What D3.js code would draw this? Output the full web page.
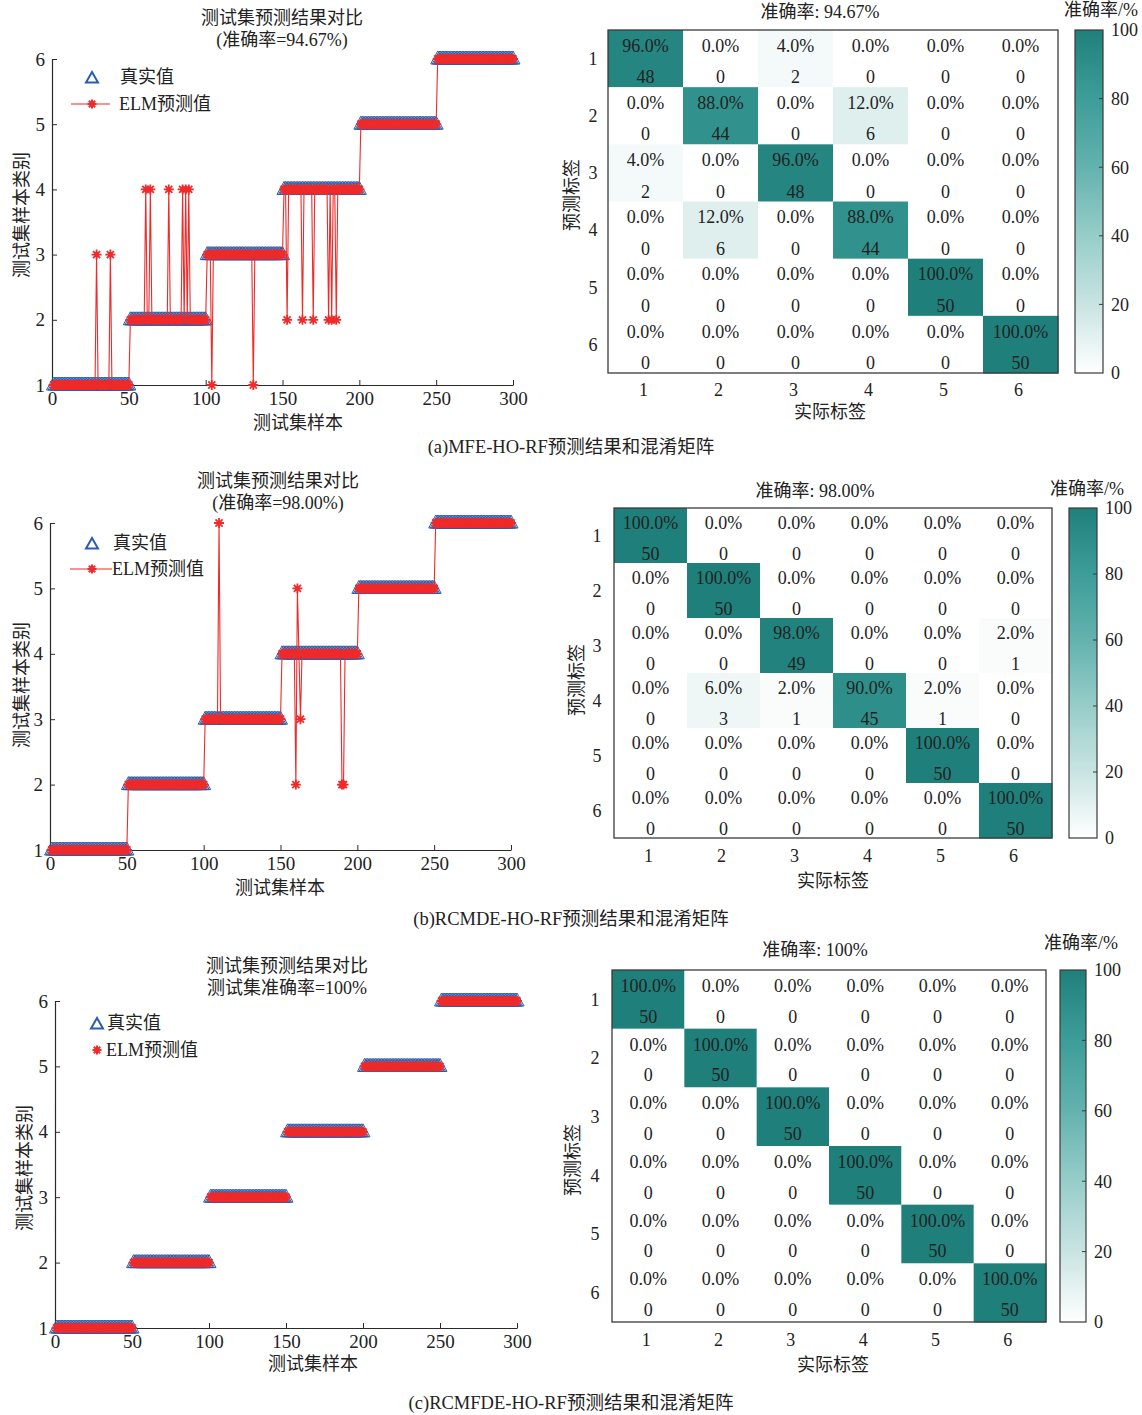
<!DOCTYPE html>
<html>
<head>
<meta charset="utf-8">
<script src="https://cdn.jsdelivr.net/npm/d3@7"></script>
<style>
  html, body { margin: 0; padding: 0; background: #fff; }
  svg text { font-family: "Liberation Serif", "Noto Sans CJK SC", serif; fill: #222; }
</style>
</head>
<body>
<svg id="fig" width="1142" height="1415"></svg>
<script>
// ---- data ----
const classes = [1, 2, 3, 4, 5, 6];
const classSizes = [50, 50, 50, 50, 50, 50];      // test samples per class, in order
const xTicks = [0, 50, 100, 150, 200, 250, 300];
const yTicks = [1, 2, 3, 4, 5, 6];
const cbTicks = [0, 20, 40, 60, 80, 100];

// misclassified test samples: [sample index, predicted class]
const missA = [[29, 3], [38, 3], [61, 4], [64, 4], [76, 4], [85, 4], [87, 4], [89, 4],
               [104, 1], [131, 1], [153, 2], [163, 2], [170, 2], [180, 2], [182, 2], [185, 2]];
const missB = [[110, 6], [160, 2], [161, 5], [163, 3], [190, 2], [191, 2]];
const missC = [];

// confusion matrices (counts)
const matA = [[48, 0, 2, 0, 0, 0], [0, 44, 0, 6, 0, 0], [2, 0, 48, 0, 0, 0],
              [0, 6, 0, 44, 0, 0], [0, 0, 0, 0, 50, 0], [0, 0, 0, 0, 0, 50]];
const matB = [[50, 0, 0, 0, 0, 0], [0, 50, 0, 0, 0, 0], [0, 0, 49, 0, 0, 1],
              [0, 3, 1, 45, 1, 0], [0, 0, 0, 0, 50, 0], [0, 0, 0, 0, 0, 50]];
const matC = [[50, 0, 0, 0, 0, 0], [0, 50, 0, 0, 0, 0], [0, 0, 50, 0, 0, 0],
              [0, 0, 0, 50, 0, 0], [0, 0, 0, 0, 50, 0], [0, 0, 0, 0, 0, 50]];

const titlesLeft = [["测试集预测结果对比", "(准确率=94.67%)"],
                    ["测试集预测结果对比", "(准确率=98.00%)"],
                    ["测试集预测结果对比", "测试集准确率=100%"]];
const titlesRight = ["准确率: 94.67%", "准确率: 98.00%", "准确率: 100%"];
const captions = ["(a)MFE-HO-RF预测结果和混淆矩阵",
                  "(b)RCMDE-HO-RF预测结果和混淆矩阵",
                  "(c)RCMFDE-HO-RF预测结果和混淆矩阵"];

// ---- helpers ----
const svg = d3.select("#fig");
const FS = 18;
const RED = "#ee2a2a", BLUE = "#2b5cad", AXIS = "#2a2a2a";

const teal = d3.scaleLinear()
  .domain([0, 20, 40, 60, 80, 100])
  .range(["#ffffff", "#c8e4e2", "#97cdc9", "#63b2ae", "#3d9d98", "#1f7f7b"])
  .interpolate(d3.interpolateRgb);

function truthSeries() {
  const out = [];
  classSizes.forEach((n, k) => { for (let i = 0; i < n; i++) out.push(classes[k]); });
  return out.map((c, i) => ({ x: i + 1, y: c }));
}
function predictedSeries(miss) {
  const m = new Map(miss);
  return truthSeries().map(d => ({ x: d.x, y: m.has(d.x) ? m.get(d.x) : d.y }));
}
function asterisk(r) {
  const a = r * 0.7071;
  return `M0,${-r}L0,${r}M${-r},0L${r},0M${-a},${-a}L${a},${a}M${-a},${a}L${a},${-a}`;
}
const triPath = "M0,-8L7,5L-7,5Z";
const triLegend = "M0,-6L6,4.5L-6,4.5Z";

function text(g, x, y, s, opt = {}) {
  return g.append("text").attr("x", x).attr("y", y).attr("dy", "0.35em")
    .attr("text-anchor", opt.anchor || "middle")
    .attr("font-size", opt.size || FS)
    .attr("fill", opt.fill || "#222")
    .attr("transform", opt.rotate ? `rotate(-90,${x},${y})` : null)
    .text(s);
}

// ---- prediction comparison chart ----
function drawLineChart(cfg) {
  const g = svg.append("g");
  const x = d3.scaleLinear().domain([0, 300]).range([cfg.x0, cfg.x1]);
  const y = d3.scaleLinear().domain([1, 6]).range([cfg.y1, cfg.y6]);

  // axes: left + bottom, ticks pointing inward
  const xa = g.append("g").attr("transform", `translate(0,${cfg.y1})`)
    .call(d3.axisBottom(x).tickValues(xTicks).tickFormat(d3.format("d"))
      .tickSizeInner(-5).tickSizeOuter(0).tickPadding(7));
  const ya = g.append("g").attr("transform", `translate(${cfg.x0},0)`)
    .call(d3.axisLeft(y).tickValues(yTicks).tickFormat(d3.format("d"))
      .tickSizeInner(-5).tickSizeOuter(0).tickPadding(7));
  [xa, ya].forEach(a => {
    a.select(".domain").attr("stroke", AXIS).attr("stroke-width", 1.2);
    a.selectAll(".tick line").attr("stroke", AXIS);
    a.selectAll(".tick text").attr("font-size", 19).attr("fill", "#222")
      .style("font-family", "'Liberation Serif', serif");
  });
  xa.selectAll(".tick text").attr("dy", "0.71em");

  const truth = truthSeries();
  const pred = predictedSeries(cfg.miss);

  g.append("g").selectAll("path").data(truth).join("path")
    .attr("d", triPath).attr("transform", d => `translate(${x(d.x)},${y(d.y)})`)
    .attr("fill", "none").attr("stroke", BLUE).attr("stroke-width", 1);

  if (cfg.withLine) {
    g.append("path").datum(pred)
      .attr("d", d3.line().x(d => x(d.x)).y(d => y(d.y)))
      .attr("fill", "none").attr("stroke", RED).attr("stroke-width", 1.1);
  }
  g.append("g").selectAll("path").data(pred).join("path")
    .attr("d", asterisk(5)).attr("transform", d => `translate(${x(d.x)},${y(d.y)})`)
    .attr("fill", "none").attr("stroke", RED).attr("stroke-width", 1.8);

  // titles and axis labels
  text(g, cfg.tx, cfg.ty, cfg.title[0]);
  text(g, cfg.tx, cfg.ty + 22, cfg.title[1]);
  text(g, cfg.xlx, cfg.xly, "测试集样本");
  text(g, cfg.ylx, cfg.yly, "测试集样本类别", { rotate: true });

  // legend
  const L = cfg.legend;
  g.append("path").attr("d", triLegend).attr("transform", `translate(${L.mx},${L.y1 + 1})`)
    .attr("fill", "none").attr("stroke", BLUE).attr("stroke-width", 2);
  text(g, L.tx1, L.y1, "真实值", { anchor: "start" });
  if (cfg.withLine) {
    g.append("line").attr("x1", L.lx0).attr("x2", L.lx1).attr("y1", L.y2).attr("y2", L.y2)
      .attr("stroke", RED).attr("stroke-width", 1.2);
  }
  g.append("path").attr("d", asterisk(4.5)).attr("transform", `translate(${L.mx},${L.y2})`)
    .attr("fill", "none").attr("stroke", RED).attr("stroke-width", 2);
  text(g, L.tx2, L.y2, "ELM预测值", { anchor: "start" });
}

// ---- confusion matrix with colorbar ----
let gradId = 0;
function drawMatrix(cfg) {
  const g = svg.append("g");
  const xb = d3.scaleBand().domain(classes).range([cfg.left, cfg.right]);
  const yb = d3.scaleBand().domain(classes).range([cfg.top, cfg.bottom]);
  const cells = [];
  cfg.mat.forEach((row, i) => {
    const tot = d3.sum(row);
    row.forEach((v, j) => cells.push({ r: classes[i], c: classes[j], n: v, p: v / tot * 100 }));
  });

  g.append("g").selectAll("rect").data(cells).join("rect")
    .attr("x", d => xb(d.c)).attr("y", d => yb(d.r))
    .attr("width", xb.bandwidth() + 0.5).attr("height", yb.bandwidth() + 0.5)
    .attr("fill", d => teal(d.p));

  const tg = g.append("g");
  cells.forEach(d => {
    const cx = xb(d.c) + xb.bandwidth() / 2;
    const col = d.p > 50 ? "#ffffff" : "#222";
    text(tg, cx, yb(d.r) + yb.bandwidth() * 0.27, d.p.toFixed(1) + "%", { fill: col });
    text(tg, cx, yb(d.r) + yb.bandwidth() * cfg.cntPos, String(d.n), { fill: col });
  });

  g.append("rect").attr("x", cfg.left).attr("y", cfg.top)
    .attr("width", cfg.right - cfg.left).attr("height", cfg.bottom - cfg.top)
    .attr("fill", "none").attr("stroke", "#3a3a3a").attr("stroke-width", 1.3);

  classes.forEach(c => {
    text(g, xb(c) + xb.bandwidth() / 2 - 2, cfg.colLabY, String(c));
    text(g, cfg.rowLabX, yb(c) + yb.bandwidth() / 2, String(c));
  });
  text(g, cfg.tx, cfg.ty, cfg.title);
  text(g, cfg.xlx, cfg.xly, "实际标签");
  text(g, cfg.ylx, cfg.yly, "预测标签", { rotate: true });

  // colorbar
  const id = "cb" + (gradId++);
  const grad = svg.append("defs").append("linearGradient").attr("id", id)
    .attr("x1", 0).attr("y1", 1).attr("x2", 0).attr("y2", 0);
  d3.range(0, 101, 5).forEach(v => grad.append("stop")
    .attr("offset", v / 100).attr("stop-color", teal(v)));
  const cy = d3.scaleLinear().domain([0, 100]).range([cfg.bottom, cfg.top]);
  g.append("rect").attr("x", cfg.cbx0).attr("y", cfg.top)
    .attr("width", cfg.cbx1 - cfg.cbx0).attr("height", cfg.bottom - cfg.top)
    .attr("fill", `url(#${id})`).attr("stroke", "#3a3a3a").attr("stroke-width", 1.2);
  cbTicks.forEach(t => {
    if (t > 0 && t < 100) {
      g.append("line").attr("x1", cfg.cbx1 - 4).attr("x2", cfg.cbx1)
        .attr("y1", cy(t)).attr("y2", cy(t)).attr("stroke", "#3a3a3a");
    }
    text(g, cfg.cbx1 + 8, cy(t), String(t), { anchor: "start" });
  });
  text(g, cfg.cbtx, cfg.cbty, "准确率/%");
}

// ---- layout ----
const lineCfgs = [
  { x0: 52, x1: 513, y1: 385, y6: 59, miss: missA, withLine: true, title: titlesLeft[0],
    tx: 282, ty: 18, xlx: 298, xly: 423, ylx: 22, yly: 215,
    legend: { mx: 92, y1: 77, y2: 104, lx0: 71, lx1: 110, tx1: 120, tx2: 119 } },
  { x0: 50, x1: 511, y1: 850, y6: 523, miss: missB, withLine: true, title: titlesLeft[1],
    tx: 278, ty: 481, xlx: 280, xly: 888, ylx: 22, yly: 685,
    legend: { mx: 92, y1: 543, y2: 569, lx0: 70, lx1: 112, tx1: 113, tx2: 112 } },
  { x0: 55, x1: 517, y1: 1328, y6: 1001, miss: missC, withLine: false, title: titlesLeft[2],
    tx: 287, ty: 966, xlx: 313, xly: 1364, ylx: 25, yly: 1168,
    legend: { mx: 97, y1: 1023, y2: 1050, lx0: 97, lx1: 97, tx1: 107, tx2: 106 } }
];
const matCfgs = [
  { mat: matA, left: 608, right: 1058, top: 30, bottom: 373, cntPos: 0.82, title: titlesRight[0],
    tx: 820, ty: 12, colLabY: 390, rowLabX: 593, xlx: 830, xly: 412, ylx: 572, yly: 195,
    cbx0: 1075, cbx1: 1103, cbtx: 1101, cbty: 10 },
  { mat: matB, left: 614, right: 1052, top: 508, bottom: 838, cntPos: 0.83, title: titlesRight[1],
    tx: 815, ty: 491, colLabY: 856, rowLabX: 597, xlx: 833, xly: 881, ylx: 577, yly: 680,
    cbx0: 1069, cbx1: 1097, cbtx: 1087, cbty: 489 },
  { mat: matC, left: 612, right: 1046, top: 970, bottom: 1322, cntPos: 0.79, title: titlesRight[2],
    tx: 815, ty: 950, colLabY: 1340, rowLabX: 595, xlx: 833, xly: 1365, ylx: 573, yly: 1160,
    cbx0: 1060, cbx1: 1086, cbtx: 1081, cbty: 943 }
];
const captionY = [447, 919, 1403];

lineCfgs.forEach(drawLineChart);
matCfgs.forEach(drawMatrix);
captions.forEach((c, i) => text(svg, 571, captionY[i], c, { size: 18.5 }));
</script>
</body>
</html>
